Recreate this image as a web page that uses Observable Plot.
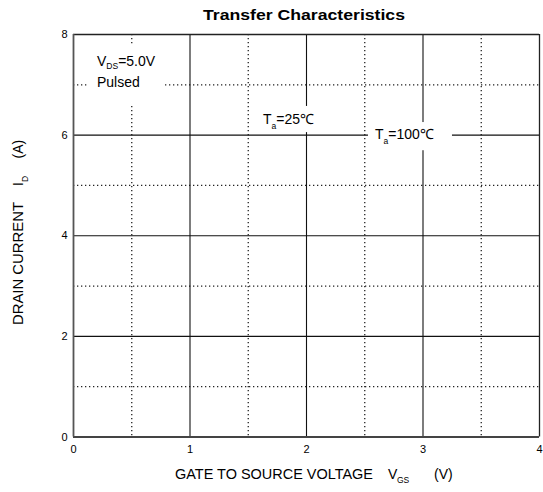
<!DOCTYPE html>
<html>
<head>
<meta charset="utf-8">
<script src="https://cdn.jsdelivr.net/npm/d3@7"></script>
<script src="https://cdn.jsdelivr.net/npm/@observablehq/plot@0.6"></script>
<style>
  html, body { margin: 0; padding: 0; background: #fff; }
  #chart svg { display: block; font-family: "Liberation Sans", Arial, sans-serif; }
</style>
</head>
<body>
<div id="chart"></div>
<script>
// ---- data ----
const xTicks = [0, 1, 2, 3, 4];
const yTicks = [0, 2, 4, 6, 8];
const xMajorGrid = [1, 2, 3];
const yMajorGrid = [2, 4, 6];
const xMinorGrid = [0.5, 1.5, 2.5, 3.5];
const yMinorGrid = [1, 3, 5, 7];
const titleText = "Transfer Characteristics";
const xLabelMain = "GATE TO SOURCE VOLTAGE";
const xLabelSym = ["V", "GS"];
const xLabelUnit = "(V)";
const yLabelMain = "DRAIN CURRENT";
const yLabelSym = ["I", "D"];
const yLabelUnit = "(A)";
// annotation lines: [main, subscript, rest], text start (x) and baseline (y) in data units
const noteLines = [
  {parts: ["V", "DS", "=5.0V"], x: 0.206, y: 7.364, sub: 3},
  {parts: ["Pulsed", "", ""], x: 0.206, y: 6.946, sub: 0},
  {parts: ["T", "a", "=25\u2103"], x: 1.631, y: 6.21, sub: 5},
  {parts: ["T", "a", "=100\u2103"], x: 2.592, y: 5.914, sub: 5}
];
// white backing boxes behind the annotations, in data units [x1, x2, y1, y2]
const noteBoxes = [
  [0.13, 0.79, 6.6, 7.8],
  [1.588, 2.12, 6.05, 6.57],
  [2.532, 3.253, 5.69, 6.25]
];

const W = 543, H = 492;
const plot = Plot.plot({
  width: W,
  height: H,
  marginLeft: 73,
  marginRight: 4,
  marginTop: 34,
  marginBottom: 55.5,
  style: {fontFamily: "Liberation Sans, Arial, sans-serif", fontSize: "11px", background: "#fff", color: "#000"},
  x: {domain: [0, 4], ticks: xTicks, tickFormat: d3.format("d"), tickSize: 0, tickPadding: 8, label: null},
  y: {domain: [0, 8], ticks: yTicks, tickFormat: d3.format("d"), tickSize: 0, tickPadding: 6, label: null},
  marks: [
    Plot.ruleX(xMinorGrid, {stroke: "#222", strokeWidth: 1.3, strokeDasharray: "1.3,2.7"}),
    Plot.ruleY(yMinorGrid, {stroke: "#222", strokeWidth: 1.3, strokeDasharray: "1.3,2.7"}),
    Plot.ruleX(xMajorGrid, {stroke: "#111", strokeWidth: 1.1}),
    Plot.ruleY(yMajorGrid, {stroke: "#111", strokeWidth: 1.1}),
    Plot.rect(noteBoxes, {x1: d => d[0], x2: d => d[1], y1: d => d[2], y2: d => d[3], fill: "#fff"}),
    Plot.ruleY([8], {stroke: "#222", strokeWidth: 1.3}),
    Plot.ruleX([4], {stroke: "#222", strokeWidth: 1.3}),
    Plot.ruleY([0], {stroke: "#444", strokeWidth: 1.8}),
    Plot.ruleX([0], {stroke: "#555", strokeWidth: 1.8})
  ]
});
document.getElementById("chart").appendChild(plot);

const svg = d3.select(plot);
const xs = plot.scale("x"), ys = plot.scale("y");
const fx = v => xs.apply(v), fy = v => ys.apply(v);

// title
svg.append("text").attr("x", 304).attr("y", 20).attr("text-anchor", "middle")
  .attr("font-size", 15).attr("font-weight", "bold").attr("fill", "#000")
  .attr("textLength", 202).attr("lengthAdjust", "spacingAndGlyphs").text(titleText);

// x label (pieces placed along one baseline)
const xg = svg.append("g").attr("fill", "#000").attr("text-anchor", "start");
xg.append("text").attr("x", 175).attr("y", 479).attr("font-size", 14)
  .attr("textLength", 198).attr("lengthAdjust", "spacingAndGlyphs").text(xLabelMain);
xg.append("text").attr("x", 388).attr("y", 479).attr("font-size", 14).text(xLabelSym[0]);
xg.append("text").attr("x", 397).attr("y", 483).attr("font-size", 8.5).text(xLabelSym[1]);
xg.append("text").attr("x", 434).attr("y", 479).attr("font-size", 14).text(xLabelUnit);

// y label (rotated; local x runs upward on screen)
const yg = svg.append("g").attr("fill", "#000").attr("text-anchor", "start")
  .attr("transform", "translate(23,0) rotate(-90)");
yg.append("text").attr("x", -325).attr("y", 0).attr("font-size", 14)
  .attr("textLength", 123).attr("lengthAdjust", "spacingAndGlyphs").text(yLabelMain);
yg.append("text").attr("x", -186).attr("y", 0).attr("font-size", 14).text(yLabelSym[0]);
yg.append("text").attr("x", -182).attr("y", 5).attr("font-size", 8.5).text(yLabelSym[1]);
yg.append("text").attr("x", -158.5).attr("y", 0).attr("font-size", 14).text(yLabelUnit);

// annotations
for (const n of noteLines) {
  const t = svg.append("text").attr("x", fx(n.x)).attr("y", fy(n.y))
    .attr("text-anchor", "start").attr("font-size", 14).attr("fill", "#000");
  t.append("tspan").text(n.parts[0]);
  if (n.parts[1]) t.append("tspan").attr("font-size", 8.5).attr("dy", n.sub).text(n.parts[1]);
  if (n.parts[2]) t.append("tspan").attr("dy", n.parts[1] ? -n.sub : 0).text(n.parts[2]);
}
</script>
</body>
</html>
